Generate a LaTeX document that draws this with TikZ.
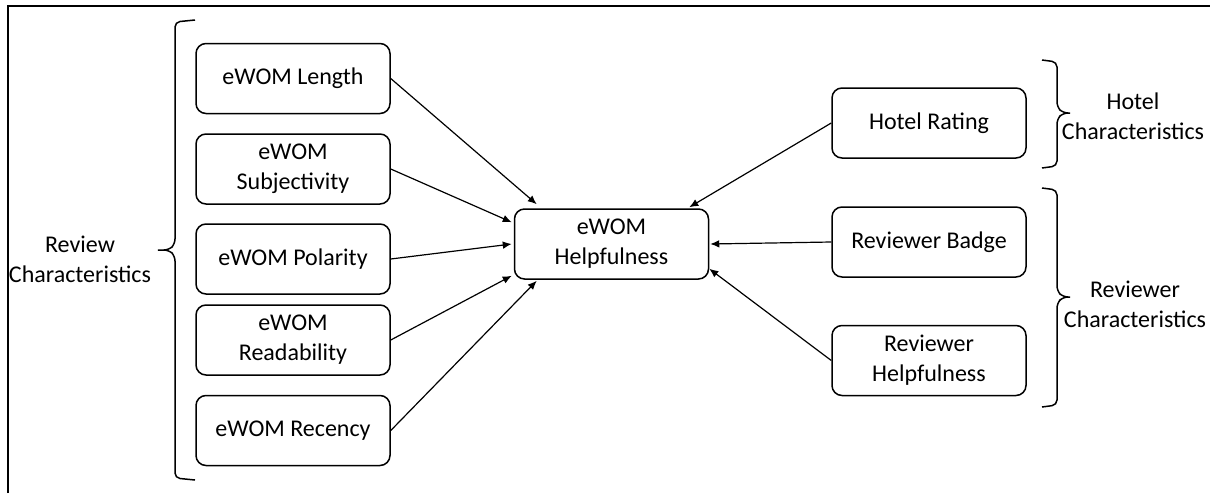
\documentclass[tikz,border=0pt]{standalone}
\usepackage{fontspec}
\setmainfont{Carlito}
\usetikzlibrary{arrows.meta, calc}
\tikzset{box/.style = {shape=rectangle, draw, rounded corners=5pt, line width=0.75pt, minimum width=97pt, minimum height=35pt, align=center, font=\fontsize{12}{15}\selectfont}}
\tikzset{edge/.style = {->, > = {Latex[length=4.5pt,width=3.8pt]}, line width=0.6pt}}
\tikzset{group/.style = {align=center, font=\fontsize{12}{15}\selectfont}}
\tikzset{bracket/.style = {line width=0.75pt, rounded corners=2.5pt}}

\begin{document}
\begin{tikzpicture}[x=0.5pt, y=-0.5pt]
                    \useasboundingbox (0,0) rectangle (1210,493);
                    \draw[line width=1pt] (8,493) -- (8,6) -- (1210,6);

                    \node[box] (len) at (293,78.5) {eWOM Length};
                    \node[box] (subj) at (293,169) {eWOM\\Subjectivity};
                    \node[box] (pol) at (293,259) {eWOM Polarity};
                    \node[box] (read) at (293,340) {eWOM\\Readability};
                    \node[box] (rec) at (293,430.5) {eWOM Recency};
                    \node[box] (help) at (611.5,244) {eWOM\\Helpfulness};
                    \node[box] (hotel) at (929,123) {Hotel Rating};
                    \node[box] (badge) at (929,242) {Reviewer Badge};
                    \node[box] (revhelp) at (929,360.5) {Reviewer\\Helpfulness};

                    \node[group] (rchar) at (80,259) {Review\\Characteristics};
                    \node[group] (hchar) at (1133,116) {Hotel\\Characteristics};
                    \node[group] (vchar) at (1135,304) {Reviewer\\Characteristics};

                    % braces
                    \draw[bracket] (195,20) -- (175,22) -- (175,244) -- (169,250) -- (155,250)
                        -- (169,250) -- (175,256) -- (175,478) -- (195,480);
                    \draw[bracket] (1042,60) -- (1057,62) -- (1057,107) -- (1063,113) -- (1073,113)
                        -- (1063,113) -- (1057,119) -- (1057,166) -- (1042,168);
                    \draw[bracket] (1042,188) -- (1057,190) -- (1057,291) -- (1063,297) -- (1073,297)
                        -- (1063,297) -- (1057,303) -- (1057,405) -- (1042,407);

                    \draw[edge] (len.east) -- ($(help.north west)+(23,-4)$);
                    \draw[edge] (subj.east) -- ($(help.north west)+(-2,14)$);
                    \draw[edge] (pol.east) -- ($(help.west)+(-2,0)$);
                    \draw[edge] (read.east) -- ($(help.south west)+(-2,-4)$);
                    \draw[edge] (rec.east) -- ($(help.south west)+(23,1)$);
                    \draw[edge] (hotel.west) -- ($(help.north east)+(-20,-1)$);
                    \draw[edge] (badge.west) -- ($(help.east)+(1,0)$);
                    \draw[edge] (revhelp.west) -- ($(help.south east)+(0,-11)$);
                \end{tikzpicture}
\end{document}
